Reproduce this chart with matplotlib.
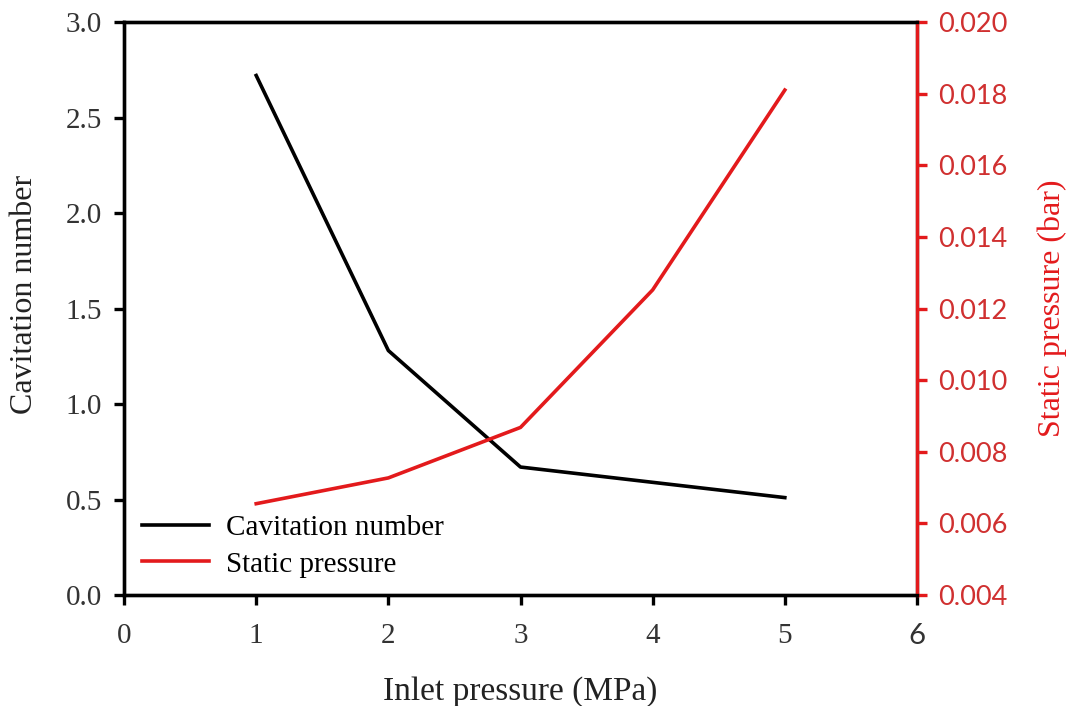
import matplotlib
matplotlib.use("Agg")
import matplotlib.pyplot as plt

inlet_pressure = [1, 2, 3, 4, 5]
cavitation_number = [2.72, 1.28, 0.67, 0.59, 0.51]
static_pressure = [0.00655, 0.00727, 0.00868, 0.01252, 0.01810]

plt.rcParams['font.family'] = ['Liberation Serif', 'DejaVu Serif']
RED = '#e31a1c'
fig = plt.figure(figsize=(10.73, 7.06), dpi=100)
ax = fig.add_axes([0.1156, 0.1572, 0.7390, 0.8116])
ax2 = ax.twinx()

l1, = ax.plot(inlet_pressure, cavitation_number, color='black', lw=2.6, label='Cavitation number')
l2, = ax2.plot(inlet_pressure, static_pressure, color=RED, lw=2.6, label='Static pressure')

ax.set_xlim(0, 6)
ax.set_ylim(0, 3.0)
ax2.set_ylim(0.004, 0.020)
ax.set_xticks(range(0, 7))
ax.set_yticks([0, 0.5, 1.0, 1.5, 2.0, 2.5, 3.0])
ax.set_yticklabels(['0.0', '0.5', '1.0', '1.5', '2.0', '2.5', '3.0'])
r_ticks = [0.004, 0.006, 0.008, 0.010, 0.012, 0.014, 0.016, 0.018, 0.020]
ax2.set_yticks(r_ticks)
ax2.set_yticklabels(['%.3f' % v for v in r_ticks])

for a in (ax, ax2):
    for s in a.spines.values():
        s.set_linewidth(2.4)
ax2.spines['right'].set_color(RED)
ax2.spines['left'].set_color('black')

ax.tick_params(axis='y', direction='out', length=7, width=2.4, labelsize=21, colors='black',
               labelcolor='#333333', pad=9)
ax.tick_params(axis='x', direction='out', length=7, width=2.4, labelsize=21, colors='black',
               labelcolor='#333333', pad=13)
ax2.tick_params(axis='y', direction='out', length=7, width=2.4, labelsize=19.5, colors=RED,
                labelcolor='#d03030', pad=8)
for t in ax2.get_yticklabels():
    t.set_family(['Lato', 'DejaVu Sans'])
xt = ax.get_xticklabels()
xt[-1].set_family(['Lato', 'DejaVu Sans'])

ax.set_xlabel('Inlet pressure (MPa)', fontsize=24, color='#222222', labelpad=20)
ax.set_ylabel('Cavitation number', fontsize=23, color='#222222')
ax.yaxis.set_label_coords(-0.107, 0.525)
ax2.set_ylabel('Static pressure (bar)', fontsize=23, color=RED, labelpad=22)

ax.legend(handles=[l1, l2], loc='lower left', frameon=False, fontsize=21,
          handlelength=2.3, handletextpad=0.6, borderaxespad=0.2, labelspacing=0.35,
          bbox_to_anchor=(0.0, 0.0))

fig.savefig('out.png', dpi=100)
